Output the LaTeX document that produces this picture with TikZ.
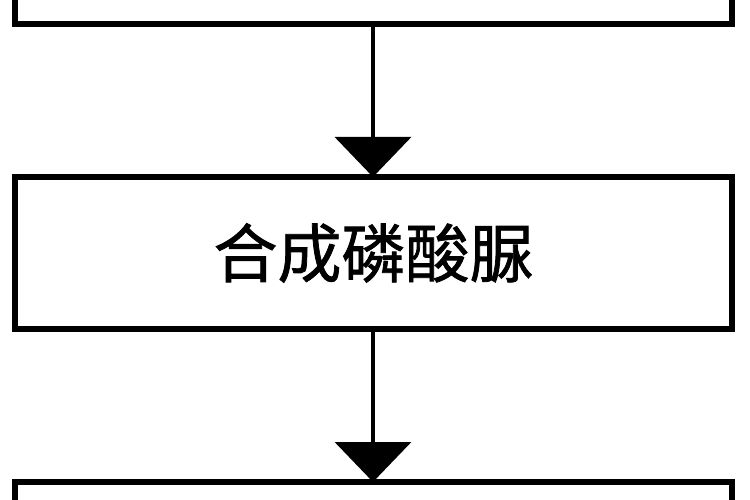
\documentclass[tikz,border=0pt]{standalone}
\usepackage{fontspec}
\newfontfamily\cjk[FakeBold=1.2]{Noto Sans CJK SC}
\usetikzlibrary{arrows.meta}
\begin{document}
\begin{tikzpicture}[x=1pt,y=1pt,
  stepbox/.style={draw=black, line width=6pt, fill=white, minimum width=717pt, minimum height=152pt, outer sep=0pt, inner sep=0pt},
  flow/.style={line width=4pt, -{Triangle[width=76pt,length=40pt]}}]
\fill[white] (0,0) rectangle (750,-500);
\useasboundingbox (0,0) rectangle (750,-500);
\clip (0,0) rectangle (750,-500);
\node[stepbox] (top) at (373.5,52) {};
\node[stepbox] (mid) at (373.5,-253) {\cjk\fontsize{64pt}{70pt}\selectfont 合成磷酸脲};
\node[stepbox] (bot) at (373.5,-558) {};
\draw[flow] (top.south -| 373,0) -- (mid.north -| 373,0);
\draw[flow] (mid.south -| 373,0) -- (bot.north -| 373,0);
\end{tikzpicture}
\end{document}
